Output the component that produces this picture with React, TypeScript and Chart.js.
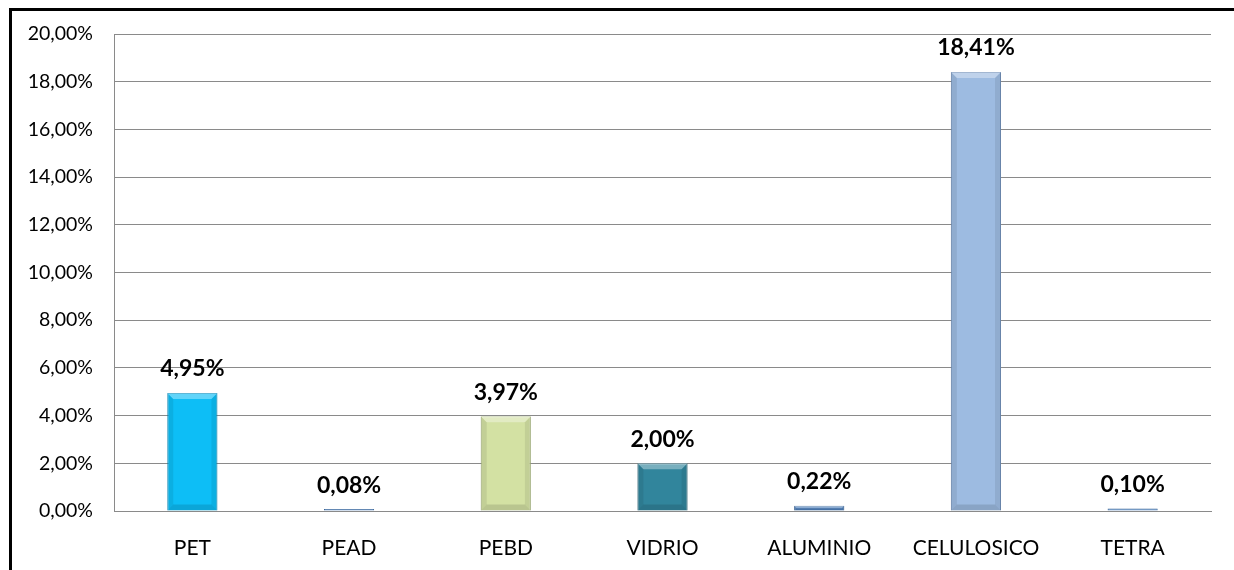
import React, { useEffect, useRef } from "react";
import { Chart, registerables } from "chart.js";

Chart.register(...registerables);

const categories = ["PET", "PEAD", "PEBD", "VIDRIO", "ALUMINIO", "CELULOSICO", "TETRA"];
const values = [4.95, 0.08, 3.97, 2.0, 0.22, 18.41, 0.1];
const colors = ["#0DBEF6", "#4F81BD", "#D3E1A3", "#31859C", "#4F81BD", "#9DBBE1", "#4F81BD"];
const borders = ["#0A8FC0", "#3A6699", "#A9B97E", "#215F70", "#3A6699", "#7190B8", "#3A6699"];

const fmt = (v: number) => v.toFixed(2).replace(".", ",") + "%";

const bevelPlugin = {
  id: "bevel",
  afterDatasetsDraw(chart: any) {
    const ctx = chart.ctx;
    const meta = chart.getDatasetMeta(0);
    ctx.save();
    meta.data.forEach((bar: any) => {
      const w = bar.width;
      const left = bar.x - w / 2;
      const right = bar.x + w / 2;
      const top = bar.y;
      const bottom = bar.base;
      const h = bottom - top;
      const b = Math.min(6, h / 2);
      if (h < 3) return;
      // top bevel lighter
      ctx.fillStyle = "rgba(255,255,255,0.35)";
      ctx.beginPath();
      ctx.moveTo(left, top);
      ctx.lineTo(right, top);
      ctx.lineTo(right - b, top + b);
      ctx.lineTo(left + b, top + b);
      ctx.closePath();
      ctx.fill();
      // side shading
      ctx.fillStyle = "rgba(0,0,0,0.08)";
      ctx.beginPath();
      ctx.moveTo(left, top);
      ctx.lineTo(left + b, top + b);
      ctx.lineTo(left + b, bottom - b);
      ctx.lineTo(left, bottom);
      ctx.closePath();
      ctx.fill();
      ctx.beginPath();
      ctx.moveTo(right, top);
      ctx.lineTo(right - b, top + b);
      ctx.lineTo(right - b, bottom - b);
      ctx.lineTo(right, bottom);
      ctx.closePath();
      ctx.fill();
      ctx.fillStyle = "rgba(0,0,0,0.12)";
      ctx.beginPath();
      ctx.moveTo(left, bottom);
      ctx.lineTo(left + b, bottom - b);
      ctx.lineTo(right - b, bottom - b);
      ctx.lineTo(right, bottom);
      ctx.closePath();
      ctx.fill();
    });
    ctx.restore();
  },
};

const labelPlugin = {
  id: "valueLabels",
  afterDatasetsDraw(chart: any) {
    const ctx = chart.ctx;
    const meta = chart.getDatasetMeta(0);
    ctx.save();
    ctx.font = "bold 23px Lato";
    ctx.fillStyle = "#000";
    ctx.textAlign = "center";
    ctx.textBaseline = "middle";
    meta.data.forEach((bar: any, i: number) => {
      ctx.fillText(fmt(values[i]), bar.x, bar.y - 24);
    });
    ctx.restore();
  },
};

export default function App() {
  const ref = useRef<HTMLCanvasElement>(null);
  useEffect(() => {
    document.documentElement.style.overflow = "hidden";
    document.body.style.overflow = "hidden";
    const chart = new Chart(ref.current!, {
      type: "bar",
      data: {
        labels: categories,
        datasets: [
          {
            data: values,
            backgroundColor: colors,
            borderColor: borders,
            borderWidth: 1,
            barPercentage: 1,
            categoryPercentage: 0.32,
          },
        ],
      },
      options: {
        animation: false,
        responsive: false,
        layout: { padding: { top: 34, right: 23, left: 0, bottom: 0 } },
        plugins: { legend: { display: false }, tooltip: { enabled: false } },
        scales: {
          x: {
            grid: { display: false, drawTicks: false },
            border: { display: true, color: "#8a8a8a", width: 1 },
            ticks: { color: "#000", font: { family: "Lato", size: 21 }, padding: 25, maxRotation: 0, autoSkip: false },
            afterFit: (s: any) => { s.height = 59; },
          },
          y: {
            min: 0,
            max: 20,
            ticks: {
              stepSize: 2,
              color: "#000",
              font: { family: "Lato", size: 19.5 },
              padding: 21,
              callback: (v: any) => fmt(Number(v)),
            },
            grid: { color: "#8a8a8a", drawTicks: false, lineWidth: 1 },
            border: { display: true, color: "#8a8a8a", width: 1 },
            afterFit: (s: any) => { s.width = 114; },
          },
        },
      },
      plugins: [bevelPlugin, labelPlugin],
    });
    return () => chart.destroy();
  }, []);
  return (
    <div style={{ position: "fixed", left: 0, top: 0, width: 1234, height: 570, background: "#fff" }}>
      <canvas ref={ref} width={1234} height={570} style={{ position: "absolute", left: 0, top: 0 }} />
      <div
        style={{
          position: "absolute",
          left: 9,
          top: 8,
          width: 1260,
          height: 600,
          border: "3px solid #000",
          pointerEvents: "none",
        }}
      />
    </div>
  );
}
